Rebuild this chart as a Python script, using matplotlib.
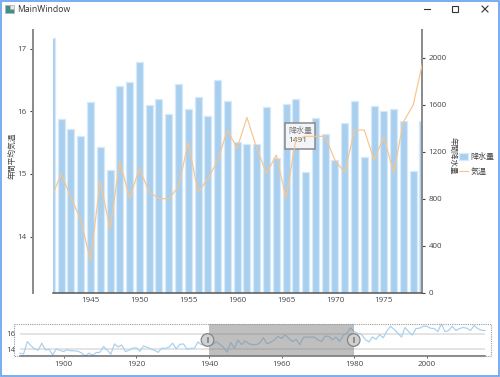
import matplotlib
matplotlib.use('Agg')
import matplotlib.pyplot as plt
from matplotlib.patches import Rectangle, Circle

plt.rcParams['font.family'] = ['Open Sans', 'Noto Sans CJK JP', 'DejaVu Sans']

# Дані
rain_years = list(range(1941, 1980))
rain = [2165, 1476, 1396, 1334, 1620, 1240, 1042, 1762, 1790, 1961,
        1595, 1646, 1523, 1776, 1561, 1663, 1506, 1810, 1631, 1285,
        1263, 1265, 1580, 1146, 1603, 1648, 1027, 1491, 1348, 1127,
        1444, 1634, 1155, 1586, 1546, 1563, 1458, 1033, 1458]

temp_years = list(range(1888, 2017))
temp = [13.48, 13.40, 15.00, 14.48, 14.05, 13.87, 14.80, 13.90, 14.00, 13.26,
        14.05, 13.87, 13.70, 13.95, 13.80, 13.80, 13.74, 13.50, 13.10, 13.50,
        13.20, 13.57, 13.60, 14.35, 13.90, 13.35, 14.70, 14.30, 14.57, 13.70,
        13.87, 14.13, 14.20, 13.74, 14.43, 14.26, 14.05, 13.87, 13.60, 14.13,
        14.13, 14.26, 14.80, 14.05, 14.65, 14.70, 14.00, 14.13, 14.13, 14.96,
        14.57, 14.90, 14.70, 14.62, 15.00, 14.63, 14.27, 13.62, 14.89, 14.12,
        15.20, 14.61, 15.09, 14.71, 14.61, 14.60, 14.80, 15.50, 14.71, 14.92,
        15.21, 15.70, 15.41, 15.90, 15.41, 15.01, 15.30, 14.61, 15.55, 15.60,
        15.60, 15.60, 15.22, 15.02, 15.70, 15.70, 15.22, 15.59, 15.02, 15.83,
        16.10, 16.80, 16.30, 16.10, 15.95, 15.30, 14.95, 15.60, 15.30, 15.90,
        15.50, 16.40, 17.00, 16.60, 16.10, 15.60, 16.85, 16.30, 15.85, 16.70,
        16.75, 17.00, 17.00, 16.75, 16.70, 16.30, 17.30, 16.30, 16.45, 17.00,
        16.45, 16.70, 16.85, 16.75, 16.45, 17.10, 16.70, 16.50, 16.45]

temp_ticks = [14, 15, 16, 17]
rain_ticks = [0, 400, 800, 1200, 1600, 2000]
main_year_ticks = [1945, 1950, 1955, 1960, 1965, 1970, 1975]
over_year_ticks = [1900, 1920, 1940, 1960, 1980, 2000]
over_temp_ticks = [14, 16]
window_years = [1940, 1980]

BAR = '#a9cfee'
BAR_EDGE = '#d6e9f8'
LINE = '#f8c58c'
TEXT = '#444444'
TICK_SIZE = 5.8
W, H = 500, 377


def box(fig, x0, y0, x1, y1):
    return fig.add_axes([x0 / W, 1 - y1 / H, (x1 - x0) / W, (y1 - y0) / H])


fig = plt.figure(figsize=(5, 3.77), dpi=100)

# Основний графік
ax_rain = box(fig, 53.3, 30, 422, 292.7)
ax_temp = ax_rain.twinx()
ax_temp.set_zorder(ax_rain.get_zorder() + 1)
ax_temp.patch.set_visible(False)

bars = ax_rain.bar(rain_years, rain, width=0.72, color=BAR, edgecolor=BAR_EDGE, linewidth=0.9, label='降水量')
ax_rain.set_xlim(1941.2, 1978.9)
ax_rain.set_ylim(0, 2236)
ax_rain.yaxis.tick_right()
ax_rain.yaxis.set_label_position('right')
ax_rain.set_yticks(rain_ticks)
ax_rain.set_xticks(main_year_ticks)
ax_rain.tick_params(axis='y', length=2.2, width=0.8, pad=2.5, labelsize=TICK_SIZE, colors=TEXT)
ax_rain.tick_params(axis='x', length=0, pad=3, labelsize=TICK_SIZE, colors=TEXT)
ax_rain.set_ylabel('年間降水量', fontsize=5.4, color=TEXT, rotation=270, va='center', ha='center')
ax_rain.yaxis.set_label_coords(1.082, 0.52)

line, = ax_temp.plot(temp_years, temp, color=LINE, linewidth=0.85, label='気温')
ax_temp.set_xlim(1941.2, 1978.9)
ax_temp.set_ylim(13.107, 17.295)
ax_temp.yaxis.tick_left()
ax_temp.yaxis.set_label_position('left')
ax_temp.set_yticks(temp_ticks)
ax_temp.tick_params(axis='y', length=2.2, width=0.8, pad=2.5, labelsize=TICK_SIZE, colors=TEXT)
ax_temp.tick_params(axis='x', length=0, labelbottom=False)
ax_temp.set_ylabel('年間平均気温', fontsize=5.6, color=TEXT, va='center', ha='center')
ax_temp.yaxis.set_label_coords(-0.11, 0.52)

for a in (ax_rain, ax_temp):
    a.spines['top'].set_visible(False)
    a.spines['left'].set_visible(False)
    a.spines['right'].set_visible(False)
    a.spines['bottom'].set_visible(False)
ax_rain.spines['right'].set_visible(True)
ax_rain.spines['right'].set_color('#8a8a8a')
ax_rain.spines['right'].set_linewidth(1.4)
ax_rain.spines['bottom'].set_visible(True)
ax_rain.spines['bottom'].set_color('#555555')
ax_rain.spines['bottom'].set_linewidth(1.1)
ax_temp.spines['left'].set_visible(True)
ax_temp.spines['left'].set_position(('outward', 14.4))
ax_temp.spines['left'].set_color('#8a8a8a')
ax_temp.spines['left'].set_linewidth(1.4)

# Легенда
fig.legend([bars, line], ['降水量', '気温'], loc='upper left', bbox_to_anchor=(459 / W, 1 - 153 / H),
           frameon=False, fontsize=5.8, labelcolor=TEXT, handlelength=1.1, handleheight=1.0,
           handletextpad=0.35, labelspacing=0.8, borderaxespad=0, borderpad=0)

# Нижня панель
ax_over = box(fig, 20, 324, 485, 355.7)
ax_over.plot(temp_years, temp, color='#a5d0f0', linewidth=0.85, clip_on=False)
ax_over.set_xlim(1888, 2016)
ax_over.set_ylim(13.16, 17.3)
ax_over.set_xticks(over_year_ticks)
ax_over.set_yticks(over_temp_ticks)
ax_over.grid(axis='y', color='#dcdcdc', linewidth=1.1)
ax_over.set_axisbelow(True)
ax_over.tick_params(axis='y', length=0, pad=3, labelsize=TICK_SIZE, colors=TEXT)
ax_over.tick_params(axis='x', length=1.5, width=0.6, pad=2.5, labelsize=TICK_SIZE, colors=TEXT)
for s in ('top', 'left', 'right'):
    ax_over.spines[s].set_visible(False)
ax_over.spines['bottom'].set_color('#666666')
ax_over.spines['bottom'].set_linewidth(1.1)
ax_over.spines['bottom'].set_linestyle((0, (1, 1)))
ax_over.axvspan(window_years[0], window_years[1], color='#808080', alpha=0.5, linewidth=0, zorder=3)

# Вікно, підказка, рамка
ui = fig.add_axes([0, 0, 1, 1])
ui.set_xlim(0, W)
ui.set_ylim(H, 0)
ui.axis('off')
ui.patch.set_visible(False)

ui.add_patch(Rectangle((0.8, 0.8), W - 1.6, H - 1.6, fill=False, edgecolor='#6ea6f2', linewidth=1.3))
ui.add_patch(Rectangle((5, 5), 9, 8, facecolor='#3f8f8a', edgecolor='#b5b5b5', linewidth=0.6))
ui.add_patch(Rectangle((10, 5), 4, 4, facecolor='#e8e8e8', edgecolor='#b5b5b5', linewidth=0.4))
ui.text(17, 10, 'MainWindow', fontsize=6.2, color='#333333', va='center', ha='left')
ui.plot([423.5, 429.5], [9, 9], color='#333333', linewidth=0.8)
ui.add_patch(Rectangle((452, 6), 6, 6, fill=False, edgecolor='#333333', linewidth=0.8))
ui.plot([482, 488], [6, 12], color='#333333', linewidth=0.8)
ui.plot([482, 488], [12, 6], color='#333333', linewidth=0.8)

ui.add_patch(Rectangle((284.5, 122.5), 30.5, 26, facecolor='#f3f4f7', edgecolor='#8a8a8a', linewidth=1.1))
ui.text(288, 130.5, '降水量', fontsize=5.8, color='#777777', va='center', ha='left')
ui.text(288, 141, '1491', fontsize=6, color='#555555', va='center', ha='left')

ui.add_patch(Rectangle((13.5, 324), 477.5, 31.7, fill=False, edgecolor='#999999', linewidth=0.8, linestyle=(0, (1, 1))))
for hx in (207.5, 353.7):
    ui.add_patch(Circle((hx, 340), 6.3, facecolor='#d0d0d0', edgecolor='#858585', linewidth=0.9))
    ui.add_patch(Rectangle((hx - 1, 337), 2, 6, facecolor='#8f8f8f', edgecolor='none'))

plt.savefig('out.png', dpi=100)
plt.close()
